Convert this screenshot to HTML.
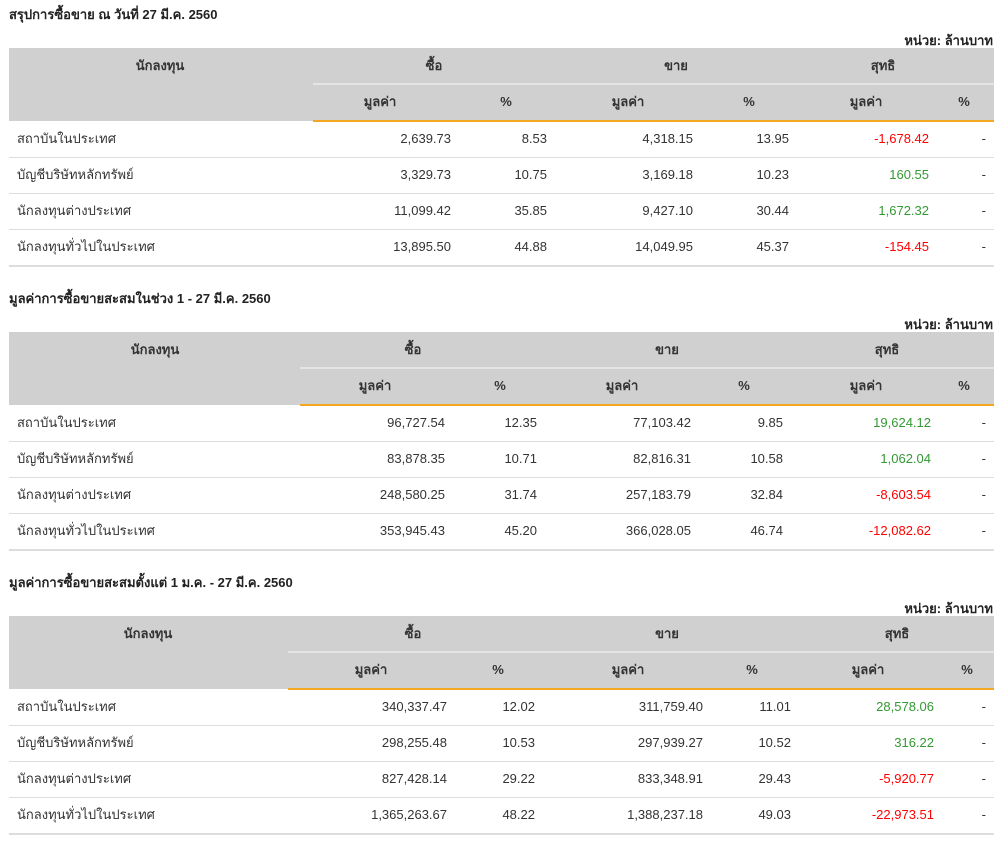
<!DOCTYPE html>
<html><head><meta charset="utf-8"><style>
body{margin:0;width:1002px;height:844px;background:#fff;position:relative;overflow:hidden;font-family:"Liberation Sans",sans-serif;font-size:13px;color:#333}
div{position:absolute;white-space:nowrap}
.t{font-weight:bold;font-size:13px;color:#222;left:9px}
.u{font-weight:bold;font-size:13px;color:#222;right:9px}
.bg{left:9px;width:985px;height:73px;background:#d0d0d0}
.wl{height:2px;background:#e4e4e4;right:8px}
.ol{height:2px;background:#f5a623;right:8px}
.rl{left:9px;width:985px;height:1px;background:#ddd}
.bl{left:9px;width:985px;height:2px;background:#ddd}
.h{font-weight:bold;color:#333;transform:translateX(-50%);line-height:16px}
.n{line-height:16px}
.g{color:#339933}.rd{color:#ff0000}
</style></head><body>

<!-- Table 1 -->
<div class="t" style="top:4px">สรุปการซื้อขาย ณ วันที่ 27 มี.ค. 2560</div>
<div class="u" style="top:30px">หน่วย: ล้านบาท</div>
<div class="bg" style="top:48px"></div>
<div class="wl" style="top:83px;left:313px"></div>
<div class="ol" style="top:120px;left:313px"></div>
<div class="h" style="left:160px;top:58px">นักลงทุน</div>
<div class="h" style="left:434px;top:58px">ซื้อ</div>
<div class="h" style="left:676px;top:58px">ขาย</div>
<div class="h" style="left:883px;top:58px">สุทธิ</div>
<div class="h" style="left:380px;top:94px">มูลค่า</div>
<div class="h" style="left:506px;top:94px">%</div>
<div class="h" style="left:628px;top:94px">มูลค่า</div>
<div class="h" style="left:749px;top:94px">%</div>
<div class="h" style="left:866px;top:94px">มูลค่า</div>
<div class="h" style="left:964px;top:94px">%</div>
<div class="rl" style="top:157px"></div><div class="rl" style="top:193px"></div><div class="rl" style="top:229px"></div><div class="bl" style="top:265px"></div>
<div class="n" style="left:17px;top:131px">สถาบันในประเทศ</div>
<div class="n" style="right:551px;top:131px">2,639.73</div><div class="n" style="right:455px;top:131px">8.53</div>
<div class="n" style="right:309px;top:131px">4,318.15</div><div class="n" style="right:213px;top:131px">13.95</div>
<div class="n rd" style="right:73px;top:131px">-1,678.42</div><div class="n" style="right:16px;top:131px">-</div>
<div class="n" style="left:17px;top:167px">บัญชีบริษัทหลักทรัพย์</div>
<div class="n" style="right:551px;top:167px">3,329.73</div><div class="n" style="right:455px;top:167px">10.75</div>
<div class="n" style="right:309px;top:167px">3,169.18</div><div class="n" style="right:213px;top:167px">10.23</div>
<div class="n g" style="right:73px;top:167px">160.55</div><div class="n" style="right:16px;top:167px">-</div>
<div class="n" style="left:17px;top:203px">นักลงทุนต่างประเทศ</div>
<div class="n" style="right:551px;top:203px">11,099.42</div><div class="n" style="right:455px;top:203px">35.85</div>
<div class="n" style="right:309px;top:203px">9,427.10</div><div class="n" style="right:213px;top:203px">30.44</div>
<div class="n g" style="right:73px;top:203px">1,672.32</div><div class="n" style="right:16px;top:203px">-</div>
<div class="n" style="left:17px;top:239px">นักลงทุนทั่วไปในประเทศ</div>
<div class="n" style="right:551px;top:239px">13,895.50</div><div class="n" style="right:455px;top:239px">44.88</div>
<div class="n" style="right:309px;top:239px">14,049.95</div><div class="n" style="right:213px;top:239px">45.37</div>
<div class="n rd" style="right:73px;top:239px">-154.45</div><div class="n" style="right:16px;top:239px">-</div>

<!-- Table 2 -->
<div class="t" style="top:288px">มูลค่าการซื้อขายสะสมในช่วง 1 - 27 มี.ค. 2560</div>
<div class="u" style="top:314px">หน่วย: ล้านบาท</div>
<div class="bg" style="top:332px"></div>
<div class="wl" style="top:367px;left:300px"></div>
<div class="ol" style="top:404px;left:300px"></div>
<div class="h" style="left:155px;top:342px">นักลงทุน</div>
<div class="h" style="left:413px;top:342px">ซื้อ</div>
<div class="h" style="left:667px;top:342px">ขาย</div>
<div class="h" style="left:887px;top:342px">สุทธิ</div>
<div class="h" style="left:375px;top:378px">มูลค่า</div>
<div class="h" style="left:500px;top:378px">%</div>
<div class="h" style="left:622px;top:378px">มูลค่า</div>
<div class="h" style="left:744px;top:378px">%</div>
<div class="h" style="left:866px;top:378px">มูลค่า</div>
<div class="h" style="left:964px;top:378px">%</div>
<div class="rl" style="top:441px"></div><div class="rl" style="top:477px"></div><div class="rl" style="top:513px"></div><div class="bl" style="top:549px"></div>
<div class="n" style="left:17px;top:415px">สถาบันในประเทศ</div>
<div class="n" style="right:557px;top:415px">96,727.54</div><div class="n" style="right:465px;top:415px">12.35</div>
<div class="n" style="right:311px;top:415px">77,103.42</div><div class="n" style="right:219px;top:415px">9.85</div>
<div class="n g" style="right:71px;top:415px">19,624.12</div><div class="n" style="right:16px;top:415px">-</div>
<div class="n" style="left:17px;top:451px">บัญชีบริษัทหลักทรัพย์</div>
<div class="n" style="right:557px;top:451px">83,878.35</div><div class="n" style="right:465px;top:451px">10.71</div>
<div class="n" style="right:311px;top:451px">82,816.31</div><div class="n" style="right:219px;top:451px">10.58</div>
<div class="n g" style="right:71px;top:451px">1,062.04</div><div class="n" style="right:16px;top:451px">-</div>
<div class="n" style="left:17px;top:487px">นักลงทุนต่างประเทศ</div>
<div class="n" style="right:557px;top:487px">248,580.25</div><div class="n" style="right:465px;top:487px">31.74</div>
<div class="n" style="right:311px;top:487px">257,183.79</div><div class="n" style="right:219px;top:487px">32.84</div>
<div class="n rd" style="right:71px;top:487px">-8,603.54</div><div class="n" style="right:16px;top:487px">-</div>
<div class="n" style="left:17px;top:523px">นักลงทุนทั่วไปในประเทศ</div>
<div class="n" style="right:557px;top:523px">353,945.43</div><div class="n" style="right:465px;top:523px">45.20</div>
<div class="n" style="right:311px;top:523px">366,028.05</div><div class="n" style="right:219px;top:523px">46.74</div>
<div class="n rd" style="right:71px;top:523px">-12,082.62</div><div class="n" style="right:16px;top:523px">-</div>

<!-- Table 3 -->
<div class="t" style="top:572px">มูลค่าการซื้อขายสะสมตั้งแต่ 1 ม.ค. - 27 มี.ค. 2560</div>
<div class="u" style="top:598px">หน่วย: ล้านบาท</div>
<div class="bg" style="top:616px"></div>
<div class="wl" style="top:651px;left:288px"></div>
<div class="ol" style="top:688px;left:288px"></div>
<div class="h" style="left:148px;top:626px">นักลงทุน</div>
<div class="h" style="left:413px;top:626px">ซื้อ</div>
<div class="h" style="left:667px;top:626px">ขาย</div>
<div class="h" style="left:897px;top:626px">สุทธิ</div>
<div class="h" style="left:371px;top:662px">มูลค่า</div>
<div class="h" style="left:498px;top:662px">%</div>
<div class="h" style="left:628px;top:662px">มูลค่า</div>
<div class="h" style="left:752px;top:662px">%</div>
<div class="h" style="left:868px;top:662px">มูลค่า</div>
<div class="h" style="left:967px;top:662px">%</div>
<div class="rl" style="top:725px"></div><div class="rl" style="top:761px"></div><div class="rl" style="top:797px"></div><div class="bl" style="top:833px"></div>
<div class="n" style="left:17px;top:699px">สถาบันในประเทศ</div>
<div class="n" style="right:555px;top:699px">340,337.47</div><div class="n" style="right:467px;top:699px">12.02</div>
<div class="n" style="right:299px;top:699px">311,759.40</div><div class="n" style="right:211px;top:699px">11.01</div>
<div class="n g" style="right:68px;top:699px">28,578.06</div><div class="n" style="right:16px;top:699px">-</div>
<div class="n" style="left:17px;top:735px">บัญชีบริษัทหลักทรัพย์</div>
<div class="n" style="right:555px;top:735px">298,255.48</div><div class="n" style="right:467px;top:735px">10.53</div>
<div class="n" style="right:299px;top:735px">297,939.27</div><div class="n" style="right:211px;top:735px">10.52</div>
<div class="n g" style="right:68px;top:735px">316.22</div><div class="n" style="right:16px;top:735px">-</div>
<div class="n" style="left:17px;top:771px">นักลงทุนต่างประเทศ</div>
<div class="n" style="right:555px;top:771px">827,428.14</div><div class="n" style="right:467px;top:771px">29.22</div>
<div class="n" style="right:299px;top:771px">833,348.91</div><div class="n" style="right:211px;top:771px">29.43</div>
<div class="n rd" style="right:68px;top:771px">-5,920.77</div><div class="n" style="right:16px;top:771px">-</div>
<div class="n" style="left:17px;top:807px">นักลงทุนทั่วไปในประเทศ</div>
<div class="n" style="right:555px;top:807px">1,365,263.67</div><div class="n" style="right:467px;top:807px">48.22</div>
<div class="n" style="right:299px;top:807px">1,388,237.18</div><div class="n" style="right:211px;top:807px">49.03</div>
<div class="n rd" style="right:68px;top:807px">-22,973.51</div><div class="n" style="right:16px;top:807px">-</div>

</body></html>
